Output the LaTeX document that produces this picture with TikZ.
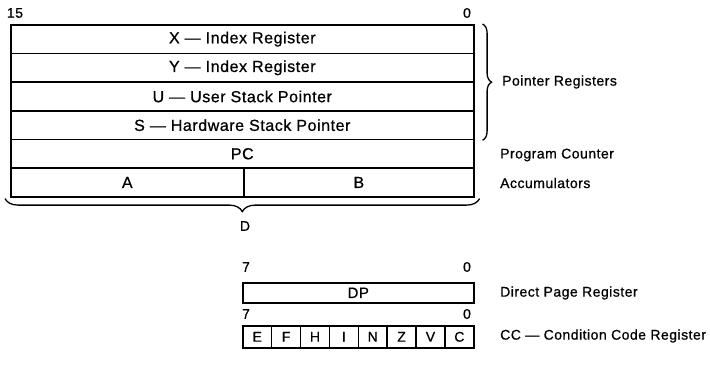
\documentclass[tikz,border=0pt]{standalone}
\usepackage{fontspec}
\setmainfont{Liberation Sans}[LetterSpace=3.5, FakeBold=0.7]
\usetikzlibrary{decorations.pathreplacing}
\begin{document}
\begin{tikzpicture}[x=1pt,y=-1pt,
  reg/.style={draw, line width=1.6pt, inner sep=0pt, anchor=north west, minimum height=28.67pt, font=\fontsize{16}{18}\selectfont},
  bit/.style={draw, line width=1.6pt, inner sep=0pt, anchor=north west, minimum width=28.875pt, minimum height=22pt, font=\fontsize{14}{16}\selectfont},
  lbl/.style={inner sep=0pt, font=\fontsize{14}{16}\selectfont},
  side/.style={inner sep=0pt, anchor=west, font=\fontsize{14}{16}\selectfont},
  brc/.style={decorate, line width=1.3pt}]
\useasboundingbox (0,0) rectangle (710,370);
\node[reg, minimum width=463pt] (X) at (10,24) {X --- Index Register};
\node[reg, minimum width=463pt] (Y) at (10,52.67) {Y --- Index Register};
\node[reg, minimum width=463pt] (U) at (10,81.33) {U --- User Stack Pointer};
\node[reg, minimum width=463pt] (S) at (10,110) {S --- Hardware Stack Pointer};
\node[reg, minimum width=463pt] (PC) at (10,138.67) {PC};
\node[reg, minimum width=233pt] (A) at (10,167.33) {A};
\node[reg, minimum width=230pt] (B) at (243,167.33) {B};
\node[lbl] (b15) at (15,13) {15};
\node[lbl] (b0) at (467,13) {0};
\draw[brc, decoration={brace, amplitude=9pt}] ([xshift=8pt]X.north east) -- ([xshift=8pt]S.south east);
\node[side] (PR) at (502,82) {Pointer Registers};
\node[side] (PCl) at (500,155) {Program Counter};
\node[side] (ACl) at (500,183) {Accumulators};
\draw[brc, decoration={brace, amplitude=13pt}] ([xshift=5pt,yshift=-1pt]B.south east) -- ([xshift=-5pt,yshift=-1pt]A.south west);
\node[lbl] (D) at (245,226) {D};
\node[lbl] (d7) at (246,267) {7};
\node[lbl] (d0) at (467,267) {0};
\node[reg, minimum width=231pt, minimum height=20pt, font=\fontsize{15}{17}\selectfont] (DP) at (242,282) {DP};
\node[side] (DPl) at (500,293) {Direct Page Register};
\node[lbl] (c7) at (246,314) {7};
\node[lbl] (c0) at (467,314) {0};
\foreach \t [count=\i from 0] in {E,F,H,I,N,Z,V,C}
  \node[bit] (cc\i) at (242+28.875*\i,325) {\t};
\node[side] (CCl) at (500,336) {CC --- Condition Code Register};
\end{tikzpicture}
\end{document}
